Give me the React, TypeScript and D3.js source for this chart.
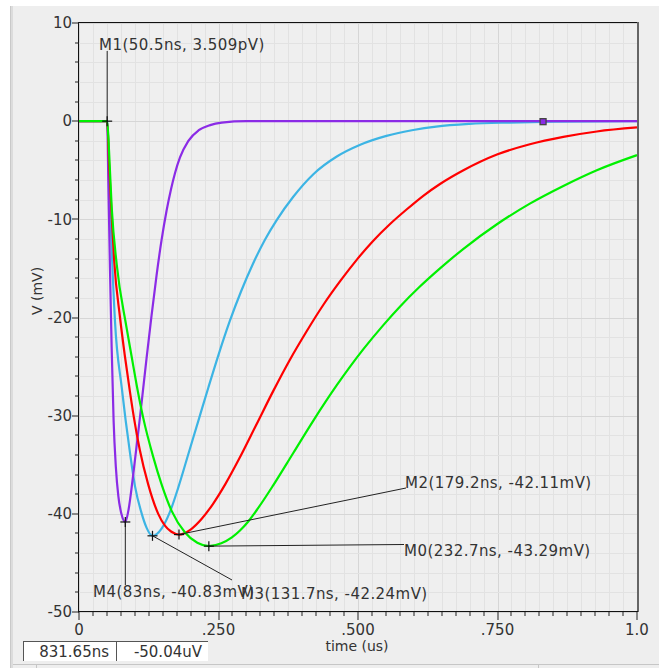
import React from "react";
import * as d3 from "d3";

// Transient response: voltage (mV) against time (us) for four signals
const purpleT = [0, 0.0505, 0.0525, 0.0555, 0.0585, 0.062, 0.066, 0.0705, 0.076, 0.083, 0.0884, 0.0974, 0.109, 0.121, 0.130, 0.139, 0.148, 0.157, 0.165, 0.172, 0.181, 0.196, 0.214, 0.235, 0.256, 0.30, 1.0];
const purpleV = [0, 0, -6.0, -15.0, -23.0, -30.5, -35.2, -38.2, -40.0, -40.83, -39.7, -35.9, -30.3, -24.2, -19.8, -15.7, -12.1, -9.1, -6.9, -5.3, -3.7, -2.0, -0.95, -0.4, -0.15, 0, 0];

const cyanT = [0, 0.0505, 0.054, 0.057, 0.0645, 0.0765, 0.0914, 0.1004, 0.112, 0.121, 0.1317, 0.148, 0.163, 0.178, 0.196, 0.214, 0.232, 0.250, 0.270, 0.290, 0.312, 0.333, 0.354, 0.384, 0.420, 0.462, 0.504, 0.551, 0.599, 0.640, 0.700, 0.772, 0.85, 1.0];
const cyanV = [0, 0, -5.0, -10.4, -20.4, -27.1, -33.8, -37.2, -39.9, -41.4, -42.24, -41.5, -39.8, -37.3, -33.9, -30.5, -27.1, -23.8, -20.4, -17.4, -14.5, -12.1, -10.1, -7.7, -5.4, -3.6, -2.4, -1.5, -0.9, -0.55, -0.28, -0.14, -0.05, 0];

const redT = [0, 0.0505, 0.054, 0.0586, 0.063, 0.0735, 0.0824, 0.0914, 0.099, 0.109, 0.124, 0.142, 0.154, 0.165, 0.1792, 0.200, 0.220, 0.240, 0.262, 0.287, 0.318, 0.348, 0.378, 0.408, 0.438, 0.468, 0.498, 0.527, 0.557, 0.587, 0.617, 0.647, 0.689, 0.749, 0.808, 0.868, 0.928, 1.0];
const redV = [0, 0, -4.5, -9.7, -14.2, -20.0, -24.0, -27.6, -30.4, -33.5, -37.0, -40.0, -41.2, -41.8, -42.11, -41.6, -40.5, -39.0, -37.0, -34.4, -30.9, -27.5, -24.3, -21.4, -18.7, -16.3, -14.1, -12.2, -10.5, -9.0, -7.6, -6.4, -5.0, -3.4, -2.35, -1.6, -1.05, -0.64];

const greenT = [0, 0.0505, 0.0538, 0.0586, 0.0676, 0.0845, 0.0944, 0.1034, 0.115, 0.133, 0.148, 0.166, 0.190, 0.212, 0.2327, 0.255, 0.274, 0.2885, 0.303, 0.320, 0.348, 0.384, 0.420, 0.462, 0.510, 0.545, 0.575, 0.610, 0.647, 0.689, 0.749, 0.808, 0.868, 0.928, 1.0];
const greenV = [0, 0, -3.0, -8.8, -14.6, -20.8, -24.0, -26.9, -30.2, -34.2, -37.0, -39.7, -41.9, -42.95, -43.29, -43.0, -42.4, -41.7, -40.8, -39.5, -37.1, -33.8, -30.5, -26.9, -23.2, -20.8, -18.9, -16.9, -15.0, -13.0, -10.5, -8.4, -6.6, -5.0, -3.46];

// Marker readouts (time in us, value in mV)
const markerNames = ["M1", "M4", "M3", "M2", "M0"];
const markerT = [0.0505, 0.083, 0.1317, 0.1792, 0.2327];
const markerV = [0.0, -40.83, -42.24, -42.11, -43.29];
const markerText = [
  "M1(50.5ns, 3.509pV)",
  "M4(83ns, -40.83mV)",
  "M3(131.7ns, -42.24mV)",
  "M2(179.2ns, -42.11mV)",
  "M0(232.7ns, -43.29mV)",
];

const xTickValues = [0, 0.25, 0.5, 0.75, 1.0];
const xTickLabels = ["0", ".250", ".500", ".750", "1.0"];
const yTickValues = [-50, -40, -30, -20, -10, 0, 10];
const yTickLabels = ["-50", "-40", "-30", "-20", "-10", "0", "10"];

const cursorT = 0.83165;
const cursorV = -0.05004;
const cursorTimeText = "831.65ns";
const cursorValueText = "-50.04uV";

const W = 659;
const H = 668;
const FONT = "'DejaVu Sans', Verdana, sans-serif";
const TEXT = "#333";

export default function App() {
  const x = d3.scaleLinear().domain([0, 1]).range([79, 637]);
  const y = d3.scaleLinear().domain([-50, 10]).range([612, 23]);

  const line = d3
    .line<[number, number]>()
    .x((d) => x(d[0]))
    .y((d) => y(d[1]))
    .curve(d3.curveMonotoneX);

  const zip = (ts: number[], vs: number[]) => ts.map((t, i) => [t, vs[i]] as [number, number]);

  const series = [
    { color: "#3cb4e4", pts: zip(cyanT, cyanV) },
    { color: "#8b2be6", pts: zip(purpleT, purpleV) },
    { color: "#ff0000", pts: zip(redT, redV) },
    { color: "#00f000", pts: zip(greenT, greenV) },
  ];

  const snap = (v: number) => Math.round(v) + 0.5;
  const xMinor = d3.range(0, 1.0001, 0.025);
  const yMinor = d3.range(-50, 10.001, 2);

  const [x0, x1] = x.range();
  const [yb, yt] = y.range();

  // label anchors for each marker: leader end point and text position
  const mk = markerT.map((t, i) => ({ name: markerNames[i], px: x(t), py: y(markerV[i]), text: markerText[i] }));
  const leaders = [
    { x2: mk[0].px, y2: 51, tx: 99, ty: 45 },
    { x2: mk[1].px, y2: 585, tx: 93, ty: 592 },
    { x2: 232, y2: 580, tx: 241, ty: 594 },
    { x2: 406, y2: 488, tx: 405, ty: 482.5 },
    { x2: 404, y2: 544.5, tx: 404, ty: 550.5 },
  ];

  return (
    <svg width={W} height={H} style={{ position: "absolute", left: 0, top: 0, display: "block" }} fontFamily={FONT}>
      <rect x={0} y={0} width={W} height={H} fill="#ffffff" />
      <rect x={11} y={6} width={W - 11} height={H - 6} fill="#eeeeee" />
      <rect x={10} y={6} width={1.5} height={H - 6} fill="#c9c9c9" />
      <rect x={12} y={6} width={1} height={H - 6} fill="#dcdcdc" />
      <line x1={13} x2={W} y1={664.5} y2={664.5} stroke="#c6c6c6" />
      <line x1={36.5} x2={36.5} y1={665} y2={H} stroke="#c6c6c6" />
      <line x1={538.5} x2={538.5} y1={665} y2={H} stroke="#c6c6c6" />

      {/* plot area */}
      <rect x={x0} y={yt} width={x1 - x0} height={yb - yt} fill="#efefef" />
      {xMinor.map((t, i) => (
        <line key={"gx" + i} x1={snap(x(t))} x2={snap(x(t))} y1={yt} y2={yb}
          stroke={i % 10 === 0 ? "#d6d6d6" : "#e2e2e2"} strokeWidth={1} />
      ))}
      {yMinor.map((v, i) => (
        <line key={"gy" + i} x1={x0} x2={x1} y1={snap(y(v))} y2={snap(y(v))}
          stroke={i % 5 === 0 ? "#d6d6d6" : "#e2e2e2"} strokeWidth={1} />
      ))}

      {/* traces */}
      {series.map((s, i) => (
        <path key={"s" + i} d={line(s.pts) || ""} fill="none" stroke={s.color} strokeWidth={2.2} strokeLinejoin="round" />
      ))}

      {/* cursor box on the purple trace */}
      <rect x={x(cursorT) - 3} y={y(cursorV) - 3} width={6} height={6} fill="#8b2be6" stroke="#444" strokeWidth={1.3} />

      {/* frame */}
      <line x1={x0} x2={x1} y1={yt - 0.5} y2={yt - 0.5} stroke="#111" />
      <line x1={x1 + 1} x2={x1 + 1} y1={yt - 1} y2={yb} stroke="#666" strokeWidth={2} />

      {/* y axis */}
      <line x1={x0 - 0.5} x2={x0 - 0.5} y1={yt - 1} y2={yb + 0.5} stroke="#111" />
      {yMinor.map((v, i) => (
        <line key={"ty" + i} x1={i % 5 === 0 ? x0 - 7 : x0 - 4} x2={x0} y1={snap(y(v)) - 0.5} y2={snap(y(v)) - 0.5} stroke="#222" />
      ))}
      {yTickValues.map((v, i) => (
        <text key={"yl" + i} x={72} y={y(v)} dy="0.35em" textAnchor="end" fontSize={15} fill={TEXT}>
          {yTickLabels[i]}
        </text>
      ))}
      <text transform={`translate(37,291) rotate(-90)`} textAnchor="middle" dy="0.35em" fontSize={14} fill={TEXT}>
        V (mV)
      </text>

      {/* x axis */}
      <line x1={x0 - 1} x2={x1 + 1} y1={yb - 0.5} y2={yb - 0.5} stroke="#111" />
      {xMinor.map((t, i) => (
        <line key={"tx" + i} x1={snap(x(t)) - 0.5} x2={snap(x(t)) - 0.5} y1={yb} y2={i % 10 === 0 ? yb + 8 : yb + 4} stroke="#222" />
      ))}
      {xTickValues.map((t, i) => (
        <text key={"xl" + i} x={x(t)} y={630} dy="0.35em" textAnchor="middle" fontSize={15} fill={TEXT}>
          {xTickLabels[i]}
        </text>
      ))}
      <text x={357} y={646} dy="0.35em" textAnchor="middle" fontSize={14} fill={TEXT}>
        time (us)
      </text>

      {/* markers */}
      {mk.map((m, i) => (
        <g key={"m" + i}>
          <line x1={m.px} y1={m.py} x2={leaders[i].x2} y2={leaders[i].y2} stroke="#222" strokeWidth={1} />
          <line x1={m.px - 5} x2={m.px + 5} y1={m.py} y2={m.py} stroke="#111" strokeWidth={1.2} />
          <line x1={m.px} x2={m.px} y1={m.py - 5} y2={m.py + 5} stroke="#111" strokeWidth={1.2} />
        </g>
      ))}
      {mk.map((m, i) => (
        <text key={"mt" + i} x={leaders[i].tx} y={leaders[i].ty} dy="0.35em" fontSize={15} letterSpacing={0.45} fill={TEXT}>
          {m.text}
        </text>
      ))}

      {/* cursor readout */}
      <rect x={23} y={641} width={185} height={20} fill="#ffffff" />
      <line x1={23.5} x2={23.5} y1={641} y2={661} stroke="#555" />
      <line x1={23} x2={208} y1={641.5} y2={641.5} stroke="#555" />
      <line x1={116.5} x2={116.5} y1={641} y2={661} stroke="#555" />
      <text x={109} y={651.5} dy="0.35em" textAnchor="end" fontSize={15} fill={TEXT}>{cursorTimeText}</text>
      <text x={202} y={651.5} dy="0.35em" textAnchor="end" fontSize={15} fill={TEXT}>{cursorValueText}</text>
    </svg>
  );
}
